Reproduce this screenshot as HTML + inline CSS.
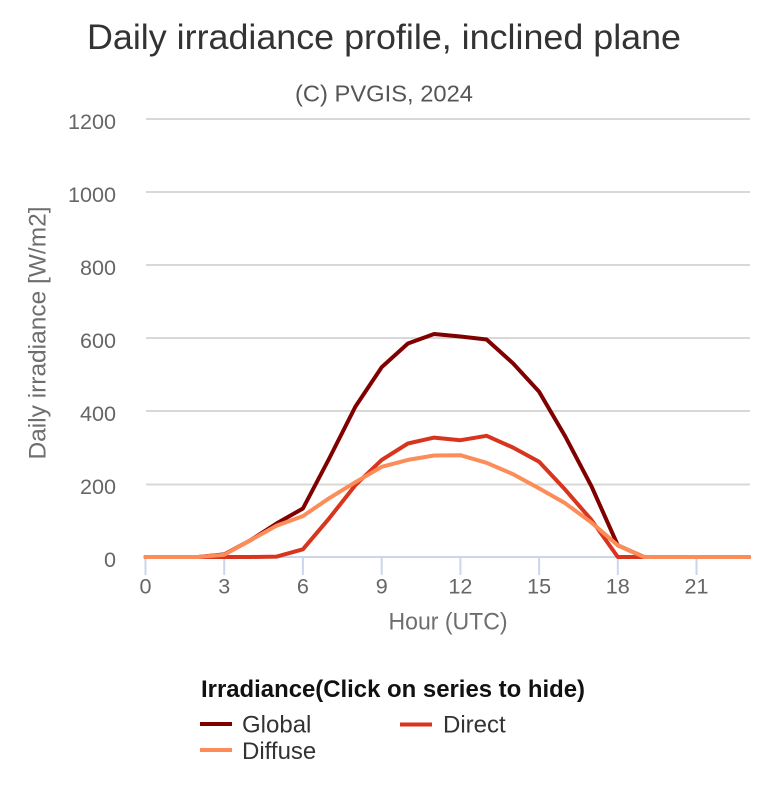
<!DOCTYPE html>
<html>
<head>
<meta charset="utf-8">
<style>
html,body{margin:0;padding:0;background:#fff;}
svg{display:block;font-family:"Liberation Sans",Arial,sans-serif;}
</style>
</head>
<body>
<svg width="770" height="800" viewBox="0 0 770 800" xmlns="http://www.w3.org/2000/svg">
<rect width="770" height="800" fill="#fff"/>
<!-- title -->
<text x="384" y="49" text-anchor="middle" font-size="35.5" fill="#333" textLength="594" lengthAdjust="spacingAndGlyphs">Daily irradiance profile, inclined plane</text>
<text x="384" y="101.5" text-anchor="middle" font-size="23.5" fill="#555" textLength="178" lengthAdjust="spacingAndGlyphs">(C) PVGIS, 2024</text>

<!-- gridlines -->
<g stroke="#d8d8d8" stroke-width="2">
<line x1="146" y1="119" x2="750" y2="119"/>
<line x1="146" y1="192" x2="750" y2="192"/>
<line x1="146" y1="265" x2="750" y2="265"/>
<line x1="146" y1="338" x2="750" y2="338"/>
<line x1="146" y1="411" x2="750" y2="411"/>
<line x1="146" y1="484.5" x2="750" y2="484.5"/>
</g>

<!-- y labels -->
<g font-size="21.6" fill="#666" text-anchor="end">
<text x="116" y="129">1200</text>
<text x="116" y="202">1000</text>
<text x="116" y="275">800</text>
<text x="116" y="348">600</text>
<text x="116" y="421">400</text>
<text x="116" y="494">200</text>
<text x="116" y="567">0</text>
</g>

<!-- y axis title -->
<text transform="translate(45.5,333) rotate(-90)" text-anchor="middle" font-size="24" fill="#6e6e6e" textLength="253" lengthAdjust="spacingAndGlyphs">Daily irradiance [W/m2]</text>

<!-- x axis -->
<line x1="145" y1="557" x2="750" y2="557" stroke="#ccd6eb" stroke-width="2"/>
<g stroke="#ccd6eb" stroke-width="2">
<line x1="145.5" y1="557" x2="145.5" y2="575"/>
<line x1="224.2" y1="557" x2="224.2" y2="575"/>
<line x1="302.9" y1="557" x2="302.9" y2="575"/>
<line x1="381.7" y1="557" x2="381.7" y2="575"/>
<line x1="460.4" y1="557" x2="460.4" y2="575"/>
<line x1="539.1" y1="557" x2="539.1" y2="575"/>
<line x1="617.8" y1="557" x2="617.8" y2="575"/>
<line x1="696.5" y1="557" x2="696.5" y2="575"/>
</g>
<g font-size="21.6" fill="#666" text-anchor="middle">
<text x="145.5" y="593.5">0</text>
<text x="224.2" y="593.5">3</text>
<text x="302.9" y="593.5">6</text>
<text x="381.7" y="593.5">9</text>
<text x="460.4" y="593.5">12</text>
<text x="539.1" y="593.5">15</text>
<text x="617.8" y="593.5">18</text>
<text x="696.5" y="593.5">21</text>
</g>
<text x="448" y="629.5" text-anchor="middle" font-size="24" fill="#6e6e6e" textLength="119" lengthAdjust="spacingAndGlyphs">Hour (UTC)</text>

<!-- series -->
<g fill="none" stroke-width="4" stroke-linejoin="round" stroke-linecap="round">
<polyline stroke="#800000" points="145.5,557 171.7,557 198,557 224.2,554.4 250.5,540.2 276.7,523.4 302.9,508.5 329.2,458.5 355.4,406.6 381.7,367.2 407.9,343.5 434.1,334 460.4,336.5 486.6,339.5 512.9,363.2 539.1,391.7 565.3,436.5 591.6,486.6 617.8,545.3 644.1,557 670.3,557 696.5,557 722.8,557 749,557"/>
<polyline stroke="#d8351f" points="145.5,557 171.7,557 198,557 224.2,557 250.5,557 276.7,556.6 302.9,549.3 329.2,518.3 355.4,485.1 381.7,459.9 407.9,443.5 434.1,437.6 460.4,440.2 486.6,435.8 512.9,447.5 539.1,461.7 565.3,489.8 591.6,520.1 617.8,557 644.1,557 670.3,557 696.5,557 722.8,557 749,557"/>
<polyline stroke="#fc8d59" points="145.5,557 171.7,557 198,557 224.2,554.8 250.5,540.2 276.7,525.6 302.9,516.1 329.2,498.2 355.4,482.2 381.7,466.8 407.9,459.9 434.1,455.5 460.4,455.2 486.6,462.8 512.9,474.1 539.1,488.4 565.3,503.3 591.6,522.7 617.8,545.3 644.1,557 670.3,557 696.5,557 722.8,557 749,557"/>
</g>

<!-- legend -->
<text x="393" y="697" text-anchor="middle" font-size="24" font-weight="bold" fill="#111" textLength="384" lengthAdjust="spacingAndGlyphs">Irradiance(Click on series to hide)</text>
<line x1="200" y1="724" x2="232" y2="724" stroke="#800000" stroke-width="4"/>
<text x="242" y="732.5" font-size="24" fill="#333">Global</text>
<line x1="400" y1="724.5" x2="432" y2="724.5" stroke="#d8351f" stroke-width="4"/>
<text x="443" y="732.5" font-size="24" fill="#333">Direct</text>
<line x1="200" y1="750" x2="232" y2="750" stroke="#fc8d59" stroke-width="4"/>
<text x="242" y="759" font-size="24" fill="#333">Diffuse</text>
</svg>
</body>
</html>
